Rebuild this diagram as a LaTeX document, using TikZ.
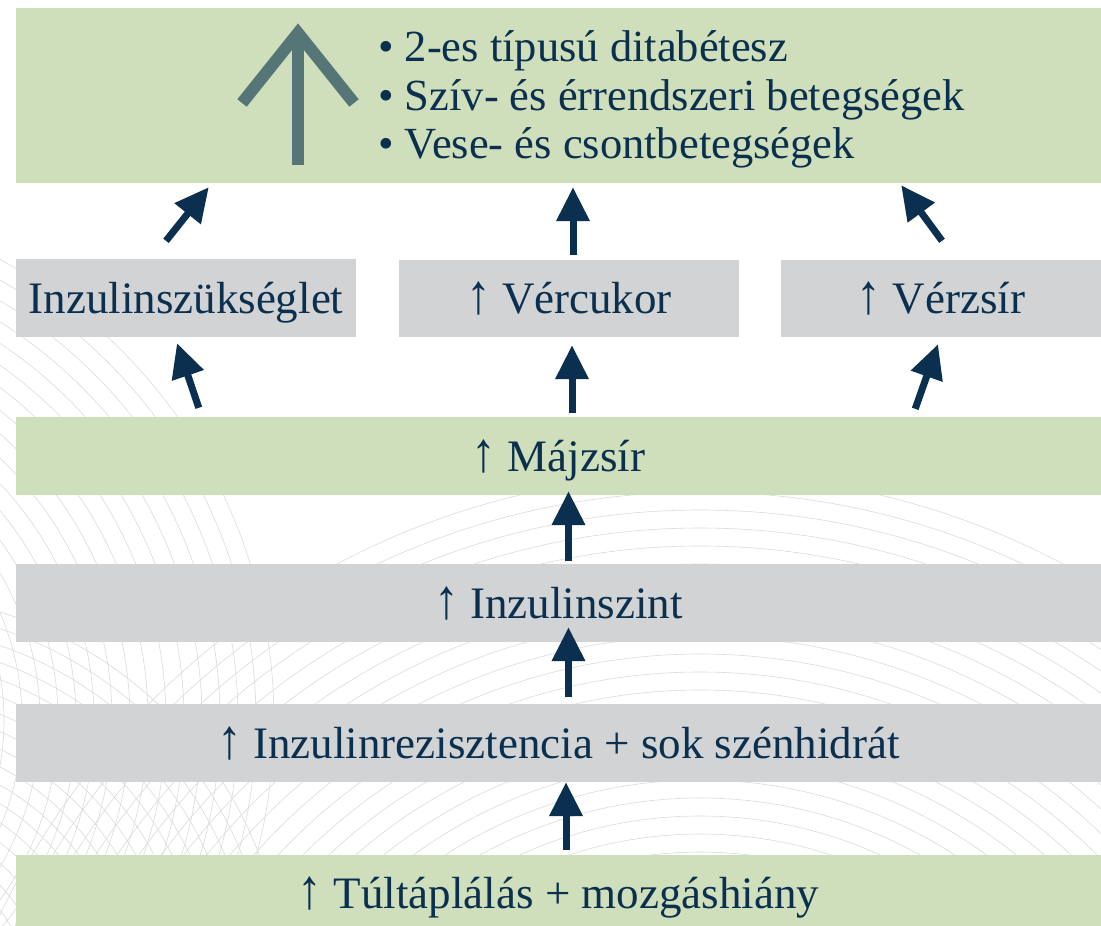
\documentclass[tikz,border=0pt]{standalone}
\usepackage{fontspec}
\setmainfont{Liberation Serif}
\usetikzlibrary{arrows.meta}
\definecolor{boxgreen}{HTML}{CFDFBB}
\definecolor{boxgray}{HTML}{D1D3D4}
\definecolor{navy}{HTML}{0B2F4E}
\definecolor{bigarr}{HTML}{557576}
\newcommand{\upar}{\scalebox{1.1}[1.25]{↑}}
\begin{document}
\begin{tikzpicture}[x=1pt,y=-1pt,
  txt/.style={text=navy, font=\fontsize{45}{50}\selectfont, text height=30pt, text depth=0pt},
  greenbox/.style={fill=boxgreen, draw=none, inner sep=0pt, txt},
  graybox/.style={fill=boxgray, draw=none, inner sep=0pt, txt},
  arr/.style={draw=navy, line width=7pt, -{Triangle[length=34pt,width=32pt]}},
  bgline/.style={draw=black!14, line width=0.6pt},
  bullettxt/.style={text=navy, font=\fontsize{44.5}{50}\selectfont, inner sep=0pt, anchor=base west}
]
\useasboundingbox (0,0) rectangle (1101,926);
\fill[white] (0,0) rectangle (1101,926);
% faint background lines
\begin{scope}
\clip (0,180) rectangle (1101,926);
\foreach \r in {380,398,...,780} \draw[bgline] (700,1250) circle [radius=\r pt];
\foreach \r in {200,218,...,540} \draw[bgline] (-250,720) circle [radius=\r pt];
\foreach \r in {150,166,...,420} \draw[bgline] (-120,1000) circle [radius=\r pt];
\end{scope}
% boxes
\node[greenbox, minimum width=1085pt, minimum height=175pt] (top) at (558.5,95.5) {};
\node[graybox, minimum width=340pt, minimum height=78pt] (insz) at (186,298) {Inzulinszükséglet};
\node[graybox, minimum width=340pt, minimum height=77pt] (verc) at (569,298.5) {\upar\ Vércukor};
\node[graybox, minimum width=320pt, minimum height=77pt] (verzs) at (941,298.5) {\upar\ Vérzsír};
\node[greenbox, minimum width=1085pt, minimum height=78pt] (majzs) at (558.5,456) {\upar\ Májzsír};
\node[graybox, minimum width=1085pt, minimum height=78pt] (inzsz) at (558.5,603) {\upar\ Inzulinszint};
\node[graybox, minimum width=1085pt, minimum height=78pt] (inzrez) at (558.5,743) {\upar\ Inzulinrezisztencia + sok szénhidrát};
\node[greenbox, minimum width=1085pt, minimum height=76pt] (tult) at (558.5,893) {\upar\ Túltáplálás + mozgáshiány};
% big arrow in top box
\draw[bigarr, line width=12pt] (298,165) -- (298,40);
\draw[bigarr, line width=12pt, miter limit=4] (242,103) -- (298,33) -- (354,103);
% bullet list
\node[bullettxt] (l1) at (378,61) {• 2-es típusú ditabétesz};
\node[bullettxt] (l2) at (378,110) {• Szív- és érrendszeri betegségek};
\node[bullettxt] (l3) at (378,158) {• Vese- és csontbetegségek};
% arrows
\draw[arr] ([xshift=7.5pt,yshift=5pt]tult.north) -- ([xshift=7.5pt]inzrez.south);
\draw[arr] ([xshift=10pt,yshift=7pt]inzrez.north) -- ([xshift=10pt,yshift=15pt]inzsz.south);
\draw[arr] ([xshift=10pt,yshift=3pt]inzsz.north) -- ([xshift=10pt,yshift=4pt]majzs.south);
\draw[arr] ([xshift=13.5pt,yshift=4pt]majzs.north) -- ([xshift=3pt,yshift=-8pt]verc.south);
\draw[arr] ([xshift=183pt,yshift=9pt]majzs.north west) -- ([xshift=-9pt,yshift=-6pt]insz.south);
\draw[arr] ([xshift=-186pt,yshift=8pt]majzs.north east) -- ([xshift=-3pt,yshift=-7pt]verzs.south);
\draw[arr] ([xshift=-20pt,yshift=18pt]insz.north) -- ([xshift=193pt,yshift=-4pt]top.south west);
\draw[arr] ([xshift=4pt,yshift=5pt]verc.north) -- ([xshift=14.5pt,yshift=-4pt]top.south);
\draw[arr] ([xshift=1pt,yshift=19pt]verzs.north) -- ([xshift=-200pt,yshift=-2pt]top.south east);
\end{tikzpicture}
\end{document}
